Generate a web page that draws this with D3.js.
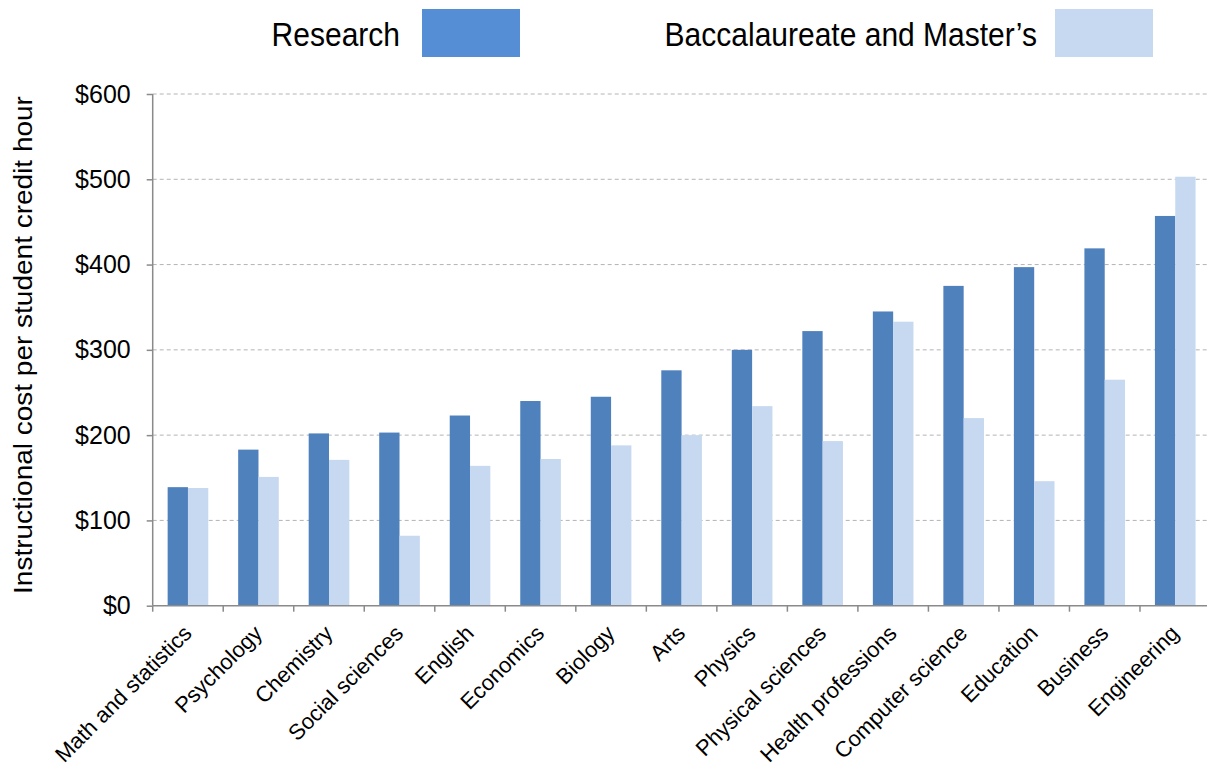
<!DOCTYPE html>
<html>
<head>
<meta charset="utf-8">
<script src="https://cdn.jsdelivr.net/npm/d3@7"></script>
<style>
  html, body { margin: 0; padding: 0; background: #fff; }
  svg { display: block; font-family: "Liberation Sans", Arial, sans-serif; }
</style>
</head>
<body>
<svg id="chart" width="1207" height="771"></svg>
<script>
// Disciplines, ordered by research-university cost
const categories = [
  "Math and statistics", "Psychology", "Chemistry", "Social sciences", "English",
  "Economics", "Biology", "Arts", "Physics", "Physical sciences",
  "Health professions", "Computer science", "Education", "Business", "Engineering"
];
// Instructional cost per student credit hour (USD)
const research = [139, 183, 202, 203, 223, 240, 245, 276, 300, 322, 345, 375, 397, 419, 457];
const baccMasters = [138, 151, 171, 82, 164, 172, 188, 200, 234, 193, 333, 220, 146, 265, 503];
const seriesNames = ["Research", "Baccalaureate and Master\u2019s"];
const yTicks = [0, 100, 200, 300, 400, 500, 600];

const colors = { dark: "#4F81BD", light: "#C6D9F1", legendDark: "#558ED5", axis: "#8a8a8a" };

const svg = d3.select("#chart");
const plot = { left: 152.7, right: 1210.5, top: 94, bottom: 605.7 };

const x = d3.scaleBand().domain(categories).range([plot.left, plot.right]).paddingInner(0).paddingOuter(0);
const y = d3.scaleLinear().domain([0, 600]).range([plot.bottom, plot.top]);
const barW = x.bandwidth() * 0.288;

// Dashed horizontal gridlines
svg.append("g").selectAll("line").data(yTicks.filter(d => d > 0)).join("line")
  .attr("x1", plot.left).attr("x2", 1207)
  .attr("y1", d => y(d)).attr("y2", d => y(d))
  .attr("stroke", "#b4b4b4").attr("stroke-width", 1).attr("stroke-dasharray", "4,3");

// Paired bars per discipline
const groups = svg.append("g").selectAll("g").data(categories).join("g")
  .attr("transform", d => `translate(${x(d) + x.bandwidth() / 2},0)`);
groups.append("rect")
  .attr("x", -barW).attr("width", barW)
  .attr("y", (d, i) => y(research[i])).attr("height", (d, i) => y(0) - y(research[i]))
  .attr("fill", colors.dark);
groups.append("rect")
  .attr("x", 0).attr("width", barW)
  .attr("y", (d, i) => y(baccMasters[i])).attr("height", (d, i) => y(0) - y(baccMasters[i]))
  .attr("fill", colors.light);

// Y axis
const yAxis = svg.append("g").attr("transform", `translate(${plot.left},0)`)
  .call(d3.axisLeft(y).tickValues(yTicks).tickFormat(d => "$" + d).tickSize(6).tickPadding(16));
yAxis.select(".domain").attr("stroke", colors.axis).attr("stroke-width", 1.5).attr("d", `M0,${plot.top}V${plot.bottom}`);
yAxis.selectAll(".tick line").attr("stroke", colors.axis).attr("stroke-width", 1.5);
yAxis.selectAll(".tick text").attr("font-size", 25).attr("fill", "#000")
  .attr("font-family", "Liberation Sans, Arial, sans-serif");

// X axis with category boundary ticks
const xAxis = svg.append("g").attr("transform", `translate(0,${plot.bottom})`)
  .call(d3.axisBottom(x).tickSize(0).tickFormat(""));
xAxis.select(".domain").attr("stroke", colors.axis).attr("stroke-width", 1.5).attr("d", `M${plot.left},0H1207`);
svg.append("g").selectAll("line").data(categories).join("line")
  .attr("x1", d => x(d) + x.bandwidth()).attr("x2", d => x(d) + x.bandwidth())
  .attr("y1", plot.bottom).attr("y2", plot.bottom + 6)
  .attr("stroke", colors.axis).attr("stroke-width", 1.5);
svg.append("line").attr("x1", plot.left).attr("x2", plot.left)
  .attr("y1", plot.bottom).attr("y2", plot.bottom + 6)
  .attr("stroke", colors.axis).attr("stroke-width", 1.5);

// Category labels, slanted
svg.append("g").selectAll("text").data(categories).join("text")
  .attr("transform", d => `translate(${x(d) + x.bandwidth() / 2 + 5},${plot.bottom + 29}) rotate(-45)`)
  .attr("text-anchor", "end")
  .attr("font-size", 22)
  .attr("fill", "#000")
  .text(d => d);

// Y axis title
svg.append("text")
  .attr("transform", `translate(32,345) rotate(-90) scale(1.12,1)`)
  .attr("text-anchor", "middle")
  .attr("font-size", 25)
  .attr("fill", "#000")
  .text("Instructional cost per student credit hour");

// Legend
const legend = [
  { name: seriesNames[0], color: colors.legendDark, textEnd: 400, sx: 422 },
  { name: seriesNames[1], color: colors.light, textEnd: 1037, sx: 1055 }
];
const lg = svg.append("g").selectAll("g").data(legend).join("g");
lg.append("text")
  .attr("transform", d => `translate(${d.textEnd},46) scale(1,1.08)`)
  .attr("text-anchor", "end").attr("font-size", 30).attr("fill", "#000").text(d => d.name);
lg.append("rect").attr("x", d => d.sx).attr("y", 9).attr("width", 98).attr("height", 48)
  .attr("fill", d => d.color);
</script>
</body>
</html>
